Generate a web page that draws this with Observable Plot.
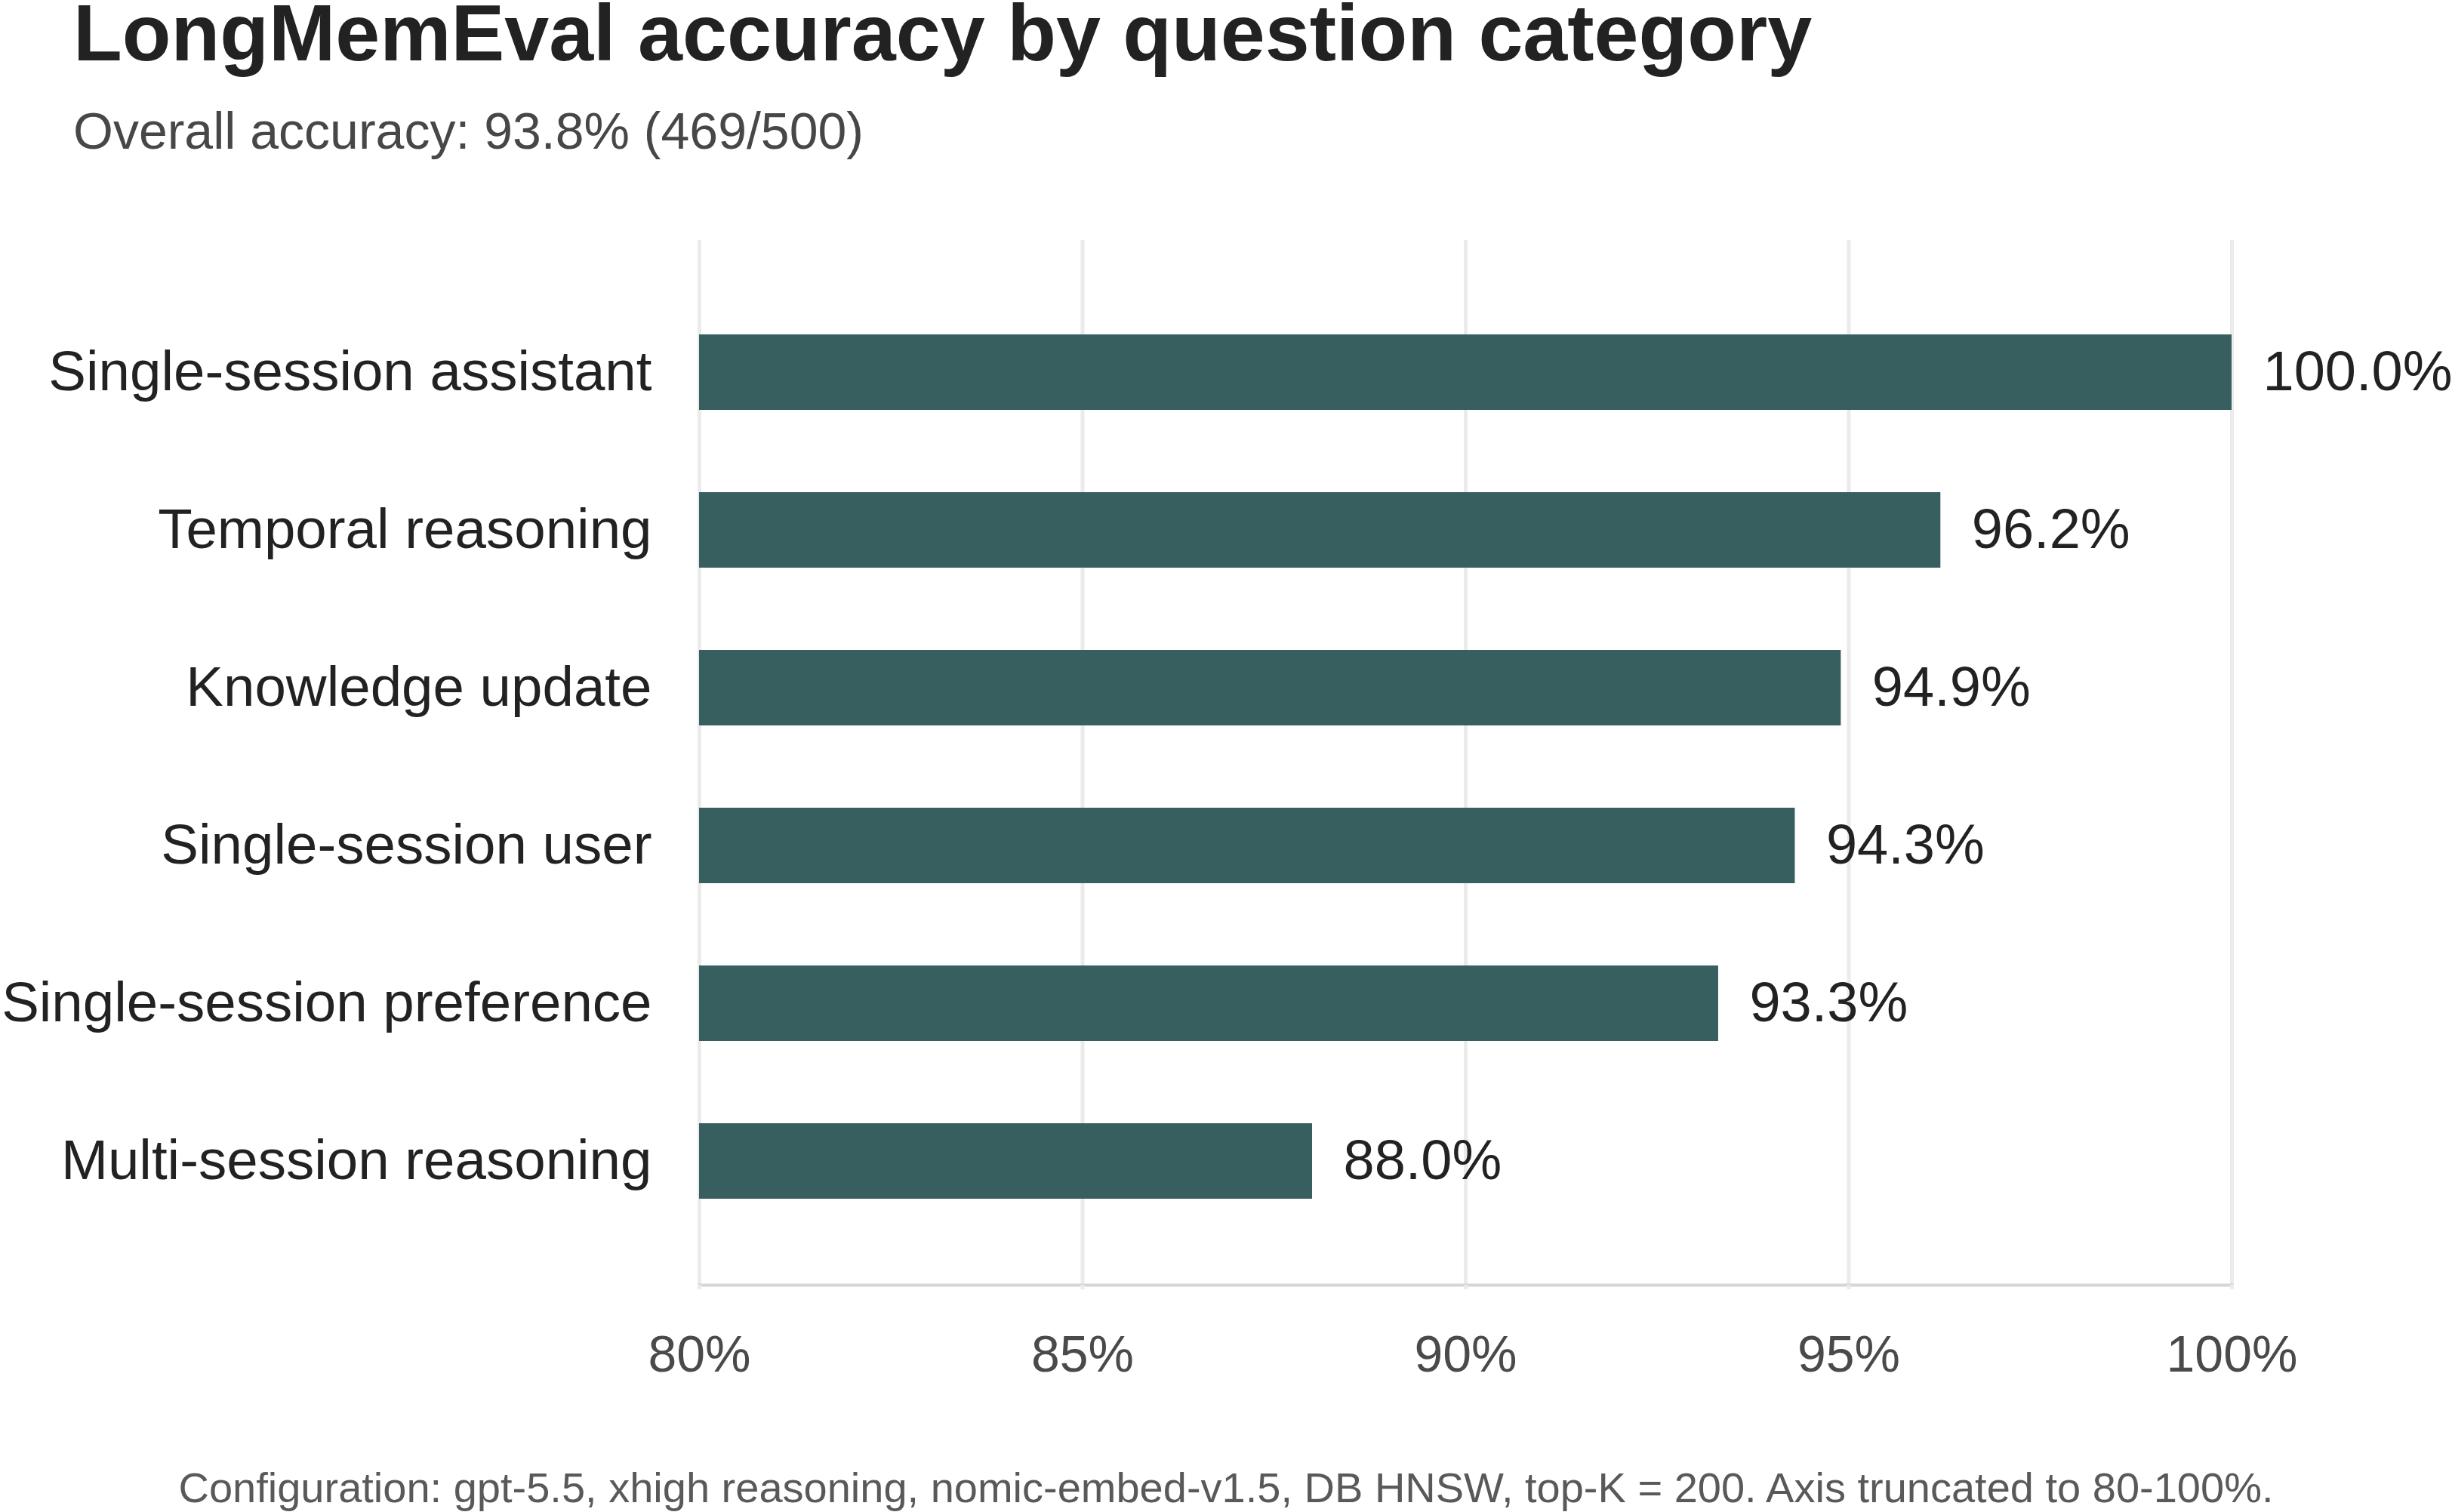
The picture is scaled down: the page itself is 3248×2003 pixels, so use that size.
<!DOCTYPE html>
<html>
<head>
<meta charset="utf-8">
<script src="https://cdn.jsdelivr.net/npm/d3@7"></script>
<script src="https://cdn.jsdelivr.net/npm/@observablehq/plot@0.6"></script>
<style>
  html, body { margin: 0; padding: 0; background: #ffffff; }
  #page {
    position: relative;
    width: 3248px;
    height: 2003px;
    background: #ffffff;
    font-family: "Liberation Sans", Arial, Helvetica, sans-serif;
    overflow: hidden;
  }
  .title {
    position: absolute; left: 97px; top: -10px;
    font-size: 106px; line-height: 106px; font-weight: 700; color: #222222;
    white-space: nowrap;
  }
  .subtitle {
    position: absolute; left: 97px; top: 139px;
    font-size: 68px; line-height: 68px; color: #474747;
    white-space: nowrap;
  }
  #plot { position: absolute; left: 0; top: 240px; }
  .caption {
    position: absolute; left: 0; top: 1943px; width: 3248px;
    text-align: center;
    font-size: 56px; line-height: 56px; color: #595959;
    white-space: nowrap;
  }
</style>
</head>
<body>
<div id="page">
  <div class="title">LongMemEval accuracy by question category</div>
  <div class="subtitle">Overall accuracy: 93.8% (469/500)</div>
  <div id="plot"></div>
  <div class="caption">Configuration: gpt-5.5, xhigh reasoning, nomic-embed-v1.5, DB HNSW, top-K = 200. Axis truncated to 80-100%.</div>
</div>
<script>
// Question categories, top to bottom
const categories = [
  "Single-session assistant",
  "Temporal reasoning",
  "Knowledge update",
  "Single-session user",
  "Single-session preference",
  "Multi-session reasoning"
];

// Accuracy per category, in percent
const accuracy = [100.0, 96.2, 94.9, 94.3, 93.3, 88.0];

// Truncated x-axis range and tick values, in percent
const xDomain = [80, 100];
const xTicks = [80, 85, 90, 95, 100];

const rows = categories.map((category, i) => ({category, value: accuracy[i]}));

const barColor = "#375f60";
const font = "'Liberation Sans', Arial, Helvetica, sans-serif";

const chart = Plot.plot({
  width: 3248,
  height: 1660,
  marginTop: 78,
  marginBottom: 198,
  marginLeft: 926,
  marginRight: 292,
  style: {fontFamily: font, background: "#ffffff", overflow: "visible"},
  x: {domain: xDomain, label: null},
  y: {domain: categories, label: null, paddingInner: 0.52, paddingOuter: 0.571, align: 0.524},
  marks: [
    Plot.gridX(xTicks, {stroke: "#ebebeb", strokeOpacity: 1, strokeWidth: 5}),
    Plot.frame({anchor: "bottom", stroke: "#d6d6d6", strokeWidth: 4}),
    Plot.barX(rows, {x: "value", y: "category", fill: barColor, clip: true}),
    Plot.text(rows, {
      x: "value",
      y: "category",
      text: d => d.value.toFixed(1) + "%",
      textAnchor: "start",
      dx: 41,
      fontSize: 74,
      fill: "#222222"
    }),
    Plot.axisY({tickSize: 0, tickPadding: 63, fontSize: 74.5, fill: "#222222", label: null}),
    Plot.axisX(xTicks, {
      tickSize: 6,
      tickPadding: 60,
      stroke: "#ebebeb",
      strokeWidth: 5,
      fontSize: 68,
      fill: "#4a4a4a",
      tickFormat: d => d + "%",
      label: null
    })
  ]
});

document.getElementById("plot").appendChild(chart);
</script>
</body>
</html>
